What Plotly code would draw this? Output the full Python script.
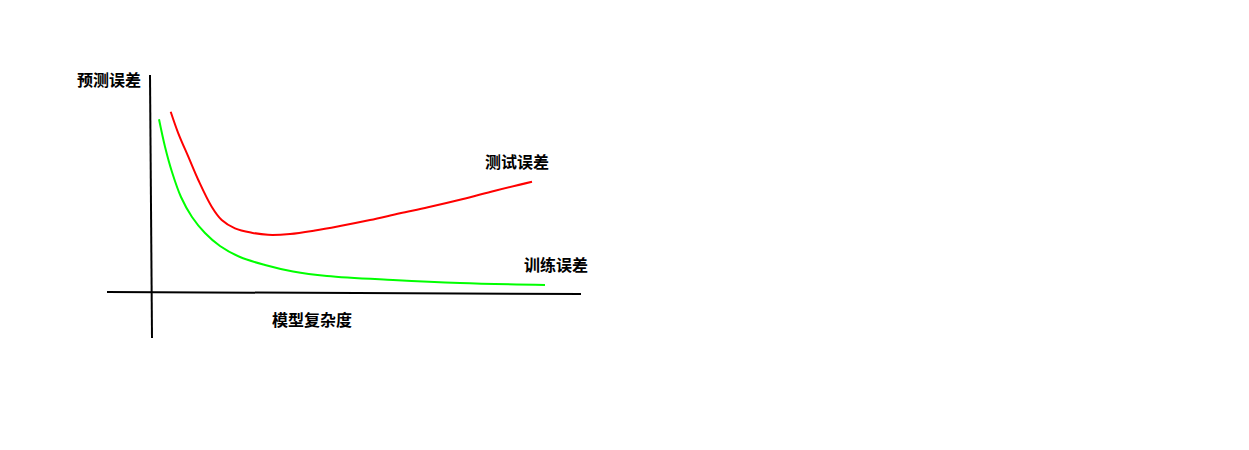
import plotly.graph_objects as go

# Schematic data (complexity units, error units), origin at axis crossing
test_x = [0.4925, 0.6825, 0.9325, 1.1825, 1.5175, 1.7675, 2.1, 2.5175, 2.925, 3.475,
          4.1, 4.725, 5.475, 6.225, 6.925, 7.775, 8.6, 9.525]
test_y = [9.065, 7.985, 6.815, 5.65, 4.315, 3.65, 3.235, 3.015, 2.91, 2.95,
          3.125, 3.35, 3.65, 3.985, 4.285, 4.685, 5.115, 5.565]

train_x = [0.2, 0.35, 0.525, 0.75, 1.025, 1.35, 1.725, 2.225, 2.85, 3.55, 4.4, 6.05, 7.725, 9.85]
train_y = [8.685, 7.315, 6.05, 4.8, 3.8, 3.0, 2.35, 1.8, 1.4, 1.075, 0.85, 0.65, 0.5, 0.4]

vaxis_x = [-0.025, 0.025]
vaxis_y = [10.9, -2.25]
haxis_x = [-1.1, 10.75]
haxis_y = [0.05, -0.05]

labels = ["预测误差", "测试误差", "训练误差", "模型复杂度"]
label_x = [-1.05, 9.16, 10.13, 4.03]
label_y = [10.7, 6.6, 1.45, -1.28]

fig = go.Figure()
fig.add_trace(go.Scatter(x=vaxis_x, y=vaxis_y, mode="lines",
                         line=dict(color="black", width=2), hoverinfo="skip"))
fig.add_trace(go.Scatter(x=haxis_x, y=haxis_y, mode="lines",
                         line=dict(color="black", width=2), hoverinfo="skip"))
fig.add_trace(go.Scatter(x=test_x, y=test_y, mode="lines",
                         line=dict(color="#ff0000", width=2, shape="spline", smoothing=1.0)))
fig.add_trace(go.Scatter(x=train_x, y=train_y, mode="lines",
                         line=dict(color="#00ff00", width=2, shape="spline", smoothing=1.0)))

for t, x, y in zip(labels, label_x, label_y):
    fig.add_annotation(x=x, y=y, text="<b>" + t + "</b>", showarrow=False,
                       xanchor="center", yanchor="middle",
                       font=dict(family="Noto Sans CJK SC", size=16, color="black"))

fig.update_layout(
    width=1249, height=450,
    margin=dict(l=0, r=0, t=0, b=0),
    paper_bgcolor="white", plot_bgcolor="white",
    showlegend=False,
    xaxis=dict(range=[-3.775, 27.45], visible=False, fixedrange=True),
    yaxis=dict(range=[-7.85, 14.65], visible=False, fixedrange=True),
)

fig.write_html("out.html", config={"displayModeBar": False})
